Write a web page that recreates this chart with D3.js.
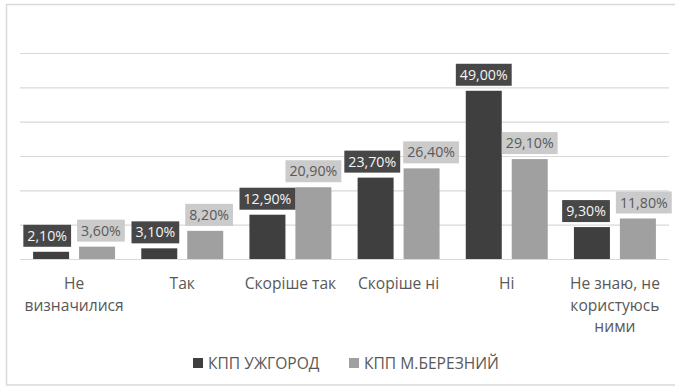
<!DOCTYPE html>
<html>
<head>
<meta charset="utf-8">
<script src="https://cdn.jsdelivr.net/npm/d3@7"></script>
<style>
  html, body { margin: 0; padding: 0; background: #ffffff; }
  svg { display: block; }
  text { font-family: "Open Sans", "Noto Sans", sans-serif; }
</style>
</head>
<body>
<svg id="chart" width="675" height="387"></svg>
<script>
// Survey answers per border checkpoint, in percent
const categories = ["Не визначилися", "Так", "Скоріше так", "Скоріше ні", "Ні", "Не знаю, не користуюсь ними"];
const seriesNames = ["КПП УЖГОРОД", "КПП М.БЕРЕЗНИЙ"];
const uzhhorod = [2.1, 3.1, 12.9, 23.7, 49.0, 9.3];
const berezny = [3.6, 8.2, 20.9, 26.4, 29.1, 11.8];
const yTicks = [0, 10, 20, 30, 40, 50, 60];

const W = 675, H = 387;
const plot = { left: 20, right: 669, top: 53, bottom: 259 };
const colors = { dark: "#3f3f3f", light: "#a0a0a0" };
const labelFill = { dark: "#474747", light: "#cbcbcb" };
const labelText = { dark: "#f4f4f4", light: "#595959" };
const textGray = "#595959";

const svg = d3.select("#chart");

// Outer chart-area frame
svg.append("rect")
  .attr("x", 6.5).attr("y", 4.5)
  .attr("width", W + 10).attr("height", 380.5)
  .attr("fill", "#ffffff")
  .attr("stroke", "#d9d9d9").attr("stroke-width", 1.5);

const x0 = d3.scaleBand().domain(categories).range([plot.left, plot.right]).padding(0);
const x1 = d3.scaleBand().domain(seriesNames).range([0, x0.bandwidth()])
  .paddingInner(0.217).paddingOuter(0.285);
const y = d3.scaleLinear().domain([0, 60]).range([plot.bottom, plot.top]);

// Horizontal gridlines (and baseline)
const yAxis = d3.axisLeft(y).tickValues(yTicks).tickSize(-(plot.right - plot.left)).tickFormat("");
const gy = svg.append("g").attr("transform", `translate(${plot.left},0)`).call(yAxis);
gy.select(".domain").remove();
gy.selectAll(".tick line").attr("stroke", "#d9d9d9").attr("stroke-width", 1.2);

const rows = categories.map((c, i) => ({
  cat: c,
  vals: [
    { key: seriesNames[0], v: uzhhorod[i], tone: "dark" },
    { key: seriesNames[1], v: berezny[i], tone: "light" }
  ]
}));

const groups = svg.append("g").selectAll("g.cat").data(rows).join("g")
  .attr("class", "cat")
  .attr("transform", d => `translate(${x0(d.cat)},0)`);

groups.selectAll("rect.bar").data(d => d.vals).join("rect")
  .attr("class", "bar")
  .attr("x", d => x1(d.key))
  .attr("y", d => y(d.v))
  .attr("width", x1.bandwidth())
  .attr("height", d => y(0) - y(d.v))
  .attr("fill", d => colors[d.tone]);

// Value labels in filled boxes above each bar
const fmt = v => v.toFixed(2).replace(".", ",") + "%";
const boxH = 22, padX = 4, gapAbove = 5, minGap = 6, crossGap = 3;
const labelLayer = svg.append("g");
const allBoxes = [];

rows.forEach(r => {
  const off = x0(r.cat);
  const boxes = r.vals.map(v => {
    const lg = labelLayer.append("g");
    const rect = lg.append("rect").attr("fill", labelFill[v.tone]);
    const t = lg.append("text")
      .attr("text-anchor", "middle")
      .attr("font-size", 14.2)
      .attr("fill", labelText[v.tone])
      .attr("dy", "0.36em")
      .text(fmt(v.v));
    const w = t.node().getComputedTextLength() + padX * 2;
    const cx = off + x1(v.key) + x1.bandwidth() / 2;
    const bottom = y(v.v) - gapAbove;
    return { rect, t, w, cx, top: bottom - boxH, bottom };
  });
  // Spread the two labels of a group apart when they crowd each other
  const [a, b] = boxes;
  const vOverlap = a.top < b.bottom && b.top < a.bottom;
  const gap = (b.cx - b.w / 2) - (a.cx + a.w / 2);
  if (vOverlap && gap < minGap) {
    const need = minGap - gap;
    a.cx -= need / 2;
    b.cx += need / 2;
  }
  allBoxes.push(a, b);
});

// Keep labels of neighbouring groups from running into each other
allBoxes.forEach((bx, i) => {
  for (let j = 0; j < i; j++) {
    const p = allBoxes[j];
    const vOverlap = bx.top < p.bottom && p.top < bx.bottom;
    const left = bx.cx - bx.w / 2, pRight = p.cx + p.w / 2;
    if (vOverlap && left < pRight + crossGap) bx.cx += (pRight + crossGap - left);
  }
});

allBoxes.forEach(bx => {
  bx.rect.attr("x", bx.cx - bx.w / 2).attr("y", bx.top).attr("width", bx.w).attr("height", boxH);
  bx.t.attr("x", bx.cx).attr("y", bx.top + boxH / 2);
});

// Category labels under the axis, wrapped to the band width
const catG = svg.append("g");
categories.forEach(c => {
  const cx = x0(c) + x0.bandwidth() / 2;
  const t = catG.append("text")
    .attr("text-anchor", "middle")
    .attr("font-size", 15.6)
    .attr("fill", textGray)
    .attr("x", cx).attr("y", 289);
  const words = c.split(" ");
  const maxW = x0.bandwidth() - 2;
  let line = [];
  let ts = t.append("tspan").attr("x", cx).attr("dy", 0);
  words.forEach(wd => {
    line.push(wd);
    ts.text(line.join(" "));
    if (ts.node().getComputedTextLength() > maxW && line.length > 1) {
      line.pop();
      ts.text(line.join(" "));
      line = [wd];
      ts = t.append("tspan").attr("x", cx).attr("dy", 21.5).text(wd);
    }
  });
});

// Legend
const legendItems = [
  { name: seriesNames[0], tone: "dark", x: 193 },
  { name: seriesNames[1], tone: "light", x: 349 }
];
const lg = svg.append("g");
legendItems.forEach(it => {
  lg.append("rect").attr("x", it.x).attr("y", 358).attr("width", 10).attr("height", 10)
    .attr("fill", colors[it.tone]);
  lg.append("text").attr("x", it.x + 15).attr("y", 368.5)
    .attr("font-size", 15.6).attr("fill", textGray).text(it.name);
});
</script>
</body>
</html>
